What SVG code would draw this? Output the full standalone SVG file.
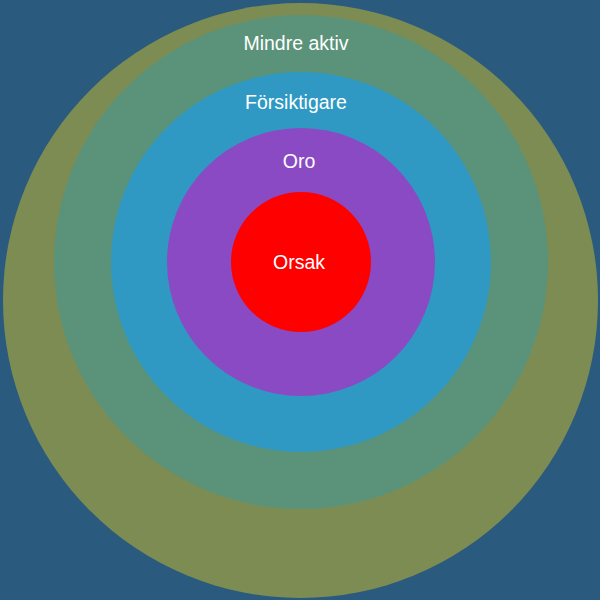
<svg xmlns="http://www.w3.org/2000/svg" width="600" height="600" viewBox="0 0 600 600">
<style>
text{font-family:"Liberation Sans",Arial,sans-serif;font-size:19.5px;fill:#ffffff;text-anchor:middle}
</style>
<rect width="600" height="600" fill="#2a5a7e"/>
<g id="mindre-aktiv"><circle cx="300.5" cy="300.5" r="297.5" fill="#7d8c53"/></g>
<g id="mindre-aktiv-inner"><circle cx="301" cy="262" r="247" fill="#5a937a"/><text x="296" y="50">Mindre aktiv</text></g>
<g id="forsiktigare"><circle cx="301" cy="262" r="190" fill="#2f99c3"/><text x="296" y="109">Försiktigare</text></g>
<g id="oro"><circle cx="301" cy="262" r="134" fill="#8a4ac4"/><text x="299" y="168">Oro</text></g>
<g id="orsak"><circle cx="301" cy="262" r="70" fill="#ff0000"/><text x="299" y="268.5">Orsak</text></g>
<g id="connectors"/>
</svg>
